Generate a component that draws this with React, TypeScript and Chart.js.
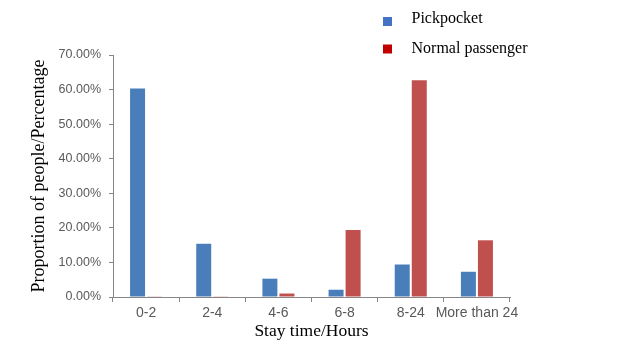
import React, { useEffect, useRef } from "react";
import { Chart, registerables } from "chart.js";

Chart.register(...registerables);

const CATEGORIES = ["0-2", "2-4", "4-6", "6-8", "8-24", "More than 24"];
const PICKPOCKET = [60.3, 15.4, 5.3, 2.1, 9.4, 7.3];
const NORMAL = [0.2, 0.2, 1.0, 19.4, 62.7, 16.4];
const SERIES_NAMES = ["Pickpocket", "Normal passenger"];
const BAR_COLORS = ["#4A7EBB", "#C0504D"];
const LEGEND_COLORS = ["#4472C4", "#C00000"];
const Y_MIN = 0;
const Y_MAX = 70;
const Y_STEP = 10;
const X_TITLE = "Stay time/Hours";
const Y_TITLE = "Proportion of people/Percentage";

const legendPlugin = {
  id: "customLegend",
  afterDraw(chart: any) {
    const ctx = chart.ctx;
    ctx.save();
    ctx.font = '16px "Liberation Serif", "Times New Roman", serif';
    ctx.textBaseline = "alphabetic";
    ctx.textAlign = "left";
    chart.data.datasets.forEach((ds: any, i: number) => {
      const sqY = 17 + i * 27.5;
      ctx.fillStyle = LEGEND_COLORS[i];
      ctx.fillRect(383, sqY, 9, 9);
      ctx.fillStyle = "#000000";
      ctx.fillText(ds.label, 411.5, 22.5 + i * 30);
    });
    ctx.restore();
  },
};

export default function App() {
  const ref = useRef<HTMLCanvasElement | null>(null);
  useEffect(() => {
    if (!ref.current) return;
    const chart = new Chart(ref.current, {
      type: "bar",
      data: {
        labels: CATEGORIES,
        datasets: [
          {
            label: SERIES_NAMES[0],
            data: PICKPOCKET,
            backgroundColor: BAR_COLORS[0],
            categoryPercentage: 0.515,
            barPercentage: 0.88,
          },
          {
            label: SERIES_NAMES[1],
            data: NORMAL,
            backgroundColor: BAR_COLORS[1],
            categoryPercentage: 0.515,
            barPercentage: 0.88,
          },
        ],
      },
      options: {
        responsive: false,
        animation: false,
        layout: { padding: { left: 0, right: 126, top: 55, bottom: 0 } },
        plugins: {
          legend: { display: false },
          tooltip: { enabled: false },
        },
        scales: {
          x: {
            offset: true,
            grid: {
              offset: true,
              drawOnChartArea: false,
              drawTicks: true,
              tickLength: 5,
              color: "#868686",
            },
            border: { color: "#868686", width: 1 },
            ticks: {
              color: "#595959",
              font: { family: '"Liberation Sans", Arial, sans-serif', size: 14 },
              padding: 3,
              maxRotation: 0,
              minRotation: 0,
              autoSkip: false,
            },
            title: {
              display: true,
              text: X_TITLE,
              color: "#000000",
              font: { family: '"Liberation Serif", "Times New Roman", serif', size: 17.5 },
              padding: { top: 0, bottom: 4 },
            },
            afterFit(scale: any) {
              scale.height = 49;
            },
          },
          y: {
            min: Y_MIN,
            max: Y_MAX,
            grid: {
              drawOnChartArea: false,
              drawTicks: true,
              tickLength: 4,
              color: "#868686",
            },
            border: { color: "#868686", width: 1 },
            ticks: {
              stepSize: Y_STEP,
              color: "#595959",
              font: { family: '"Liberation Sans", Arial, sans-serif', size: 12.5 },
              padding: 8,
              callback: (v: any) => Number(v).toFixed(2) + "%",
            },
            title: {
              display: true,
              text: Y_TITLE,
              color: "#000000",
              font: { family: '"Liberation Serif", "Times New Roman", serif', size: 18 },
              padding: { top: 28, bottom: 0 },
            },
            afterFit(scale: any) {
              scale.width = 113;
            },
          },
        },
      },
      plugins: [legendPlugin],
    });
    return () => chart.destroy();
  }, []);
  return (
    <div style={{ position: "fixed", left: 0, top: 0, width: 636, height: 346, background: "#fff" }}>
      <canvas ref={ref} width={636} height={346} style={{ display: "block" }} />
    </div>
  );
}
